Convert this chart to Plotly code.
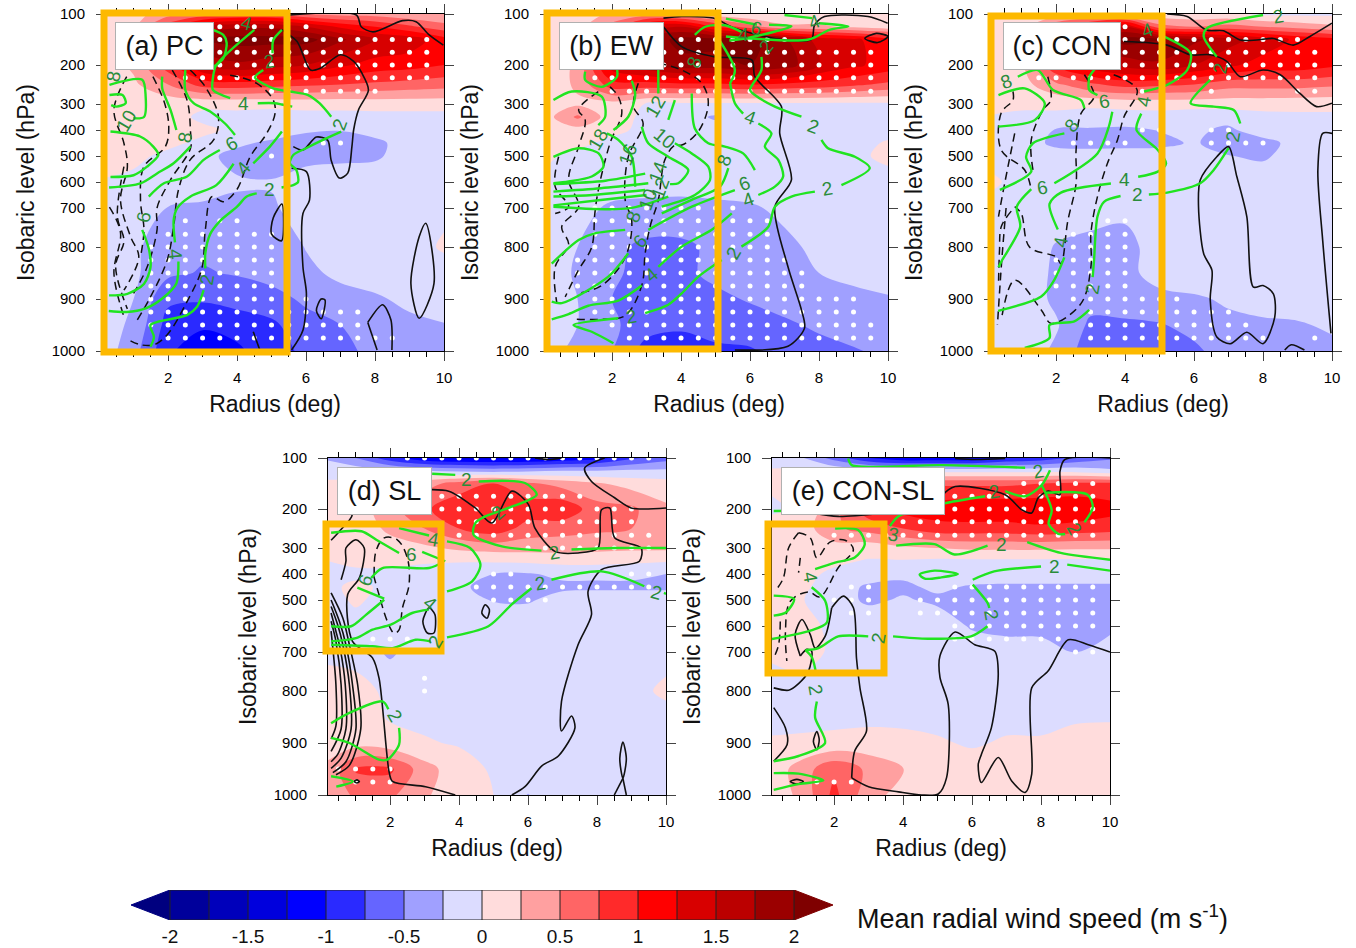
import numpy as np
import plotly.graph_objects as go

# ---------- axis scale of the figure (pressure ticks and their place on the NCL level axis)
TICK_P = [100, 200, 300, 400, 500, 600, 700, 800, 900, 1000]
TICK_POS = [337, 286, 247, 221, 195, 169, 143, 104, 52, 0]
X_TICKS = [2, 4, 6, 8, 10]
CB_TICKS = [-2, -1.5, -1, -0.5, 0, 0.5, 1, 1.5, 2]
COLORS = ['#00007f', '#00009b', '#0000bb', '#0000dd', '#0000ff', '#2a2aff', '#6565ff', '#a0a0ff', '#dcdcff',
          '#ffdcdc', '#ffa0a0', '#ff6565', '#ff2a2a', '#ff0000', '#d80000', '#bb0000', '#9b0000', '#7f0000']

# ---------- shaded field: mean radial wind speed (m/s)
RADII = [0.2, 1, 2, 3, 4, 5, 6, 7, 8, 9, 10]
LEVELS = [100, 125, 150, 200, 250, 300, 350, 400, 450, 500, 600, 700, 800, 850, 900, 950, 1000]
Z_PC = [
 [.1,.15,.4,.6,.7,.7,.5,.4,.4,.3,.25],
 [.1,.2,.9,1.5,1.7,1.7,1.5,1.2,1.0,.8,.6],
 [.1,.3,1.3,2.0,2.1,2.1,2.1,1.8,1.5,1.4,1.1],
 [.1,.3,.9,1.5,1.7,1.6,1.5,1.3,1.15,1.1,1.0],
 [.1,.2,.5,.85,.9,.85,.8,.75,.7,.65,.6],
 [.1,.1,.08,.05,.05,.05,.08,.08,.1,.1,.1],
 [.1,.1,.1,-.05,-.05,-.08,-.08,-.08,-.08,-.08,-.08],
 [.05,.1,.1,.05,-.05,-.1,-.22,-.24,-.12,-.08,-.08],
 [.05,.1,.05,-.05,-.2,-.3,-.35,-.38,-.33,-.1,-.06],
 [.1,.05,-.05,-.18,-.33,-.4,-.35,-.33,-.3,-.1,-.05],
 [-.02,-.05,-.05,-.1,-.22,-.23,-.1,-.05,-.05,-.05,-.05],
 [-.05,-.1,-.26,-.3,-.3,-.28,-.15,-.1,-.1,-.08,-.05],
 [-.1,-.2,-.4,-.45,-.45,-.4,-.24,-.15,-.1,-.1,.03],
 [-.1,-.2,-.45,-.52,-.48,-.4,-.3,-.2,-.15,-.12,-.1],
 [-.12,-.25,-.7,-.72,-.65,-.6,-.45,-.33,-.28,-.2,-.15],
 [-.15,-.3,-.85,-.95,-.9,-.8,-.6,-.5,-.4,-.3,-.26],
 [-.15,-.4,-.95,-1.2,-1.05,-.85,-.7,-.55,-.45,-.35,-.3]]
Z_EW = [
 [.05,.1,.3,.4,.3,.1,.05,.05,.05,.05,.05],
 [.05,.15,.6,1.3,1.5,1.0,.6,.3,.3,.2,.1],
 [.1,.2,1.0,1.8,2.1,2.1,2.1,1.8,1.4,1.3,1.1],
 [.1,.3,1.4,1.7,1.9,1.9,2.0,1.9,1.5,1.3,1.15],
 [.1,.3,.9,.9,.95,.95,1.0,.95,.9,.8,.7],
 [.15,.2,.15,-.02,-.05,-.05,-.05,-.05,-.05,-.05,-.05],
 [.2,.55,.1,-.05,-.15,-.28,-.1,-.1,-.1,-.1,-.1],
 [.1,.15,.05,-.05,-.1,-.15,-.1,-.1,-.1,-.1,-.1],
 [.05,.05,-.05,-.08,-.1,-.1,-.1,-.1,-.1,-.1,.03],
 [.02,-.05,-.1,-.1,-.1,-.1,-.1,-.1,-.1,-.05,.05],
 [-.05,-.1,-.1,-.12,-.15,-.15,-.12,-.1,-.1,-.1,-.08],
 [-.1,-.15,-.3,-.33,-.33,-.3,-.28,-.2,-.1,-.08,-.05],
 [-.15,-.25,-.45,-.55,-.55,-.45,-.4,-.3,-.2,-.15,-.12],
 [-.15,-.28,-.45,-.6,-.55,-.45,-.4,-.32,-.25,-.22,-.2],
 [-.15,-.25,-.5,-.6,-.6,-.55,-.48,-.38,-.32,-.28,-.26],
 [-.15,-.25,-.45,-.65,-.7,-.65,-.6,-.55,-.45,-.4,-.35],
 [-.2,-.3,-.5,-.85,-.9,-.8,-.78,-.65,-.6,-.52,-.45]]
Z_CON = [
 [-.02,.02,.15,.2,.2,.1,.05,.05,-.05,-.05,-.05],
 [.05,.1,.7,1.1,1.5,.6,.5,.6,.5,.4,.3],
 [.1,.2,1.2,1.9,2.1,2.0,1.8,1.6,1.4,1.2,1.1],
 [.1,.2,1.0,1.4,1.6,1.7,1.5,1.3,1.15,1.15,1.05],
 [.1,.15,.45,.7,.85,.8,.75,.6,.6,.6,.55],
 [.08,.05,.05,.05,.08,.1,.1,.1,.1,.08,.08],
 [-.02,-.05,-.05,-.1,-.1,-.1,-.15,-.15,-.08,-.05,-.05],
 [-.05,-.08,-.27,-.28,-.3,-.24,-.2,-.3,-.1,-.05,-.05],
 [-.05,-.1,-.32,-.33,-.32,-.32,-.22,-.38,-.35,-.15,-.05],
 [-.05,-.1,-.12,-.15,-.15,-.12,-.15,-.24,-.3,-.1,-.05],
 [.02,-.05,-.05,-.05,-.05,-.05,-.05,-.05,-.05,-.05,-.05],
 [-.05,-.05,-.1,-.15,-.2,-.1,-.08,-.05,-.05,-.05,-.05],
 [-.05,-.08,-.27,-.32,-.32,-.15,-.1,-.08,-.06,-.05,-.05],
 [-.05,-.08,-.3,-.35,-.3,-.18,-.12,-.1,-.08,-.06,-.05],
 [-.05,-.1,-.3,-.4,-.35,-.3,-.28,-.22,-.18,-.15,-.1],
 [-.05,-.1,-.22,-.55,-.55,-.52,-.42,-.3,-.28,-.27,-.22],
 [-.05,-.1,-.3,-.65,-.68,-.6,-.55,-.38,-.32,-.3,-.3]]
Z_SL = [
 [-.3,-.5,-.9,-1.2,-1.3,-1.3,-1.3,-1.2,-1.1,-.8,-.6],
 [-.05,-.1,-.2,-.25,-.3,-.35,-.3,-.25,-.25,-.2,-.2],
 [.02,.05,.1,.4,.6,.75,.55,.4,.28,.15,.1],
 [.05,.1,.4,.7,.95,1.0,.9,.95,.6,.55,.3],
 [.05,.1,.3,.5,.75,.9,.65,.6,.55,.5,.45],
 [.05,.1,.15,.2,.3,.35,.35,.35,.32,.3,.3],
 [0,.05,.05,.03,.02,.03,.05,.08,.08,.05,.02],
 [-.05,-.05,-.05,-.1,-.15,-.25,-.27,-.2,-.2,-.2,-.25],
 [-.05,.05,-.05,-.1,-.2,-.35,-.35,-.3,-.3,-.3,-.3],
 [-.05,.02,-.05,-.08,-.1,-.27,-.28,-.15,-.1,-.1,-.1],
 [-.05,-.05,-.05,-.05,-.05,-.05,-.05,-.02,-.05,-.05,-.05],
 [-.05,-.05,-.3,-.05,-.05,-.05,-.05,-.02,-.05,-.05,-.05],
 [.1,.05,-.03,-.05,-.05,-.05,-.05,-.05,-.05,-.05,.03],
 [.1,.1,-.02,-.05,-.05,-.05,-.05,-.05,-.05,-.05,-.05],
 [.15,.15,.08,.02,-.02,-.05,-.05,-.05,-.05,-.05,-.05],
 [.3,.78,.8,.35,.1,-.03,-.05,-.05,-.05,-.05,-.05],
 [.3,.55,.55,.28,.12,0,-.26,-.05,-.05,-.05,-.05]]
Z_CONSL = [
 [-.1,-.2,-.6,-1.0,-1.2,-1.2,-1.2,-1.0,-.9,-.7,-.55],
 [.02,.05,-.05,-.1,-.1,-.1,-.1,-.1,-.1,-.1,-.2],
 [.02,.05,.1,.4,.6,.7,.7,.7,.75,.8,.8],
 [-.02,.02,.4,.9,1.1,1.15,1.2,1.2,1.2,1.2,1.1],
 [.05,.1,.45,.6,.75,.9,.9,.9,.95,.9,.85],
 [.1,.2,.15,.1,.2,.25,.3,.3,.3,.28,.28],
 [.1,.15,.05,-.02,-.02,-.05,-.05,-.05,-.05,-.05,-.05],
 [.05,.08,-.05,-.1,-.2,-.1,-.1,-.1,-.1,-.1,-.1],
 [.05,.05,-.1,-.3,-.3,-.2,-.28,-.3,-.3,-.3,-.3],
 [.05,.02,-.12,-.3,-.22,-.3,-.32,-.35,-.35,-.35,-.35],
 [.05,.08,-.05,-.05,-.08,-.1,-.28,-.35,-.35,-.33,-.33],
 [.02,.05,-.02,-.05,-.05,-.05,-.1,-.1,-.12,-.26,-.1],
 [-.05,-.05,-.05,-.05,-.05,-.05,-.05,-.05,-.05,-.05,-.05],
 [-.05,-.05,-.05,-.05,-.05,-.05,-.05,-.05,-.05,-.03,-.02],
 [.02,.03,.05,.08,.06,.02,-.02,.02,.02,.08,.08],
 [.1,.35,.7,.45,.26,.1,.08,.08,.1,.1,.1],
 [.1,.3,.82,.35,.15,.08,.06,.05,.05,.05,.05]]

# ---------- significance stippling: level -> radius spans
STIP_PC = {125:[(3.5,5),(6,6)],150:[(3.5,9.5)],175:[(3.5,9.5)],200:[(3.5,9.5)],233:[(2.5,9.5)],267:[(5,8)],
 450:[(6.5,7)],500:[(5,5)],733:[(2.5,2.5),(3.5,4)],767:[(2,5)],800:[(1.5,5)],825:[(1.5,5)],850:[(1.5,5)],875:[(1.5,5)],
 900:[(1.5,5),(6,6)],925:[(1.5,7.5)],950:[(1.5,7.5)],975:[(2,8.5)]}
STIP_EW = {150:[(4,7)],175:[(3.5,9.5)],200:[(3.5,9.5)],233:[(1.5,9.5)],267:[(2,9.5)],700:[(1.5,5.5)],733:[(1.5,6.5)],
 767:[(1.5,6.5)],800:[(1.5,6.5)],825:[(1,7)],850:[(1,7.5)],875:[(1,7.5)],900:[(1.5,9)],925:[(1.5,9)],950:[(2,9.5)],975:[(2.5,9.5)]}
STIP_CON = {125:[(4,4)],150:[(4,9)],175:[(4,9.5)],200:[(4,9.5)],233:[(1.5,9.5)],267:[(4.5,4.5),(6.5,6.5),(9,9.5)],
 400:[(4.5,5),(6.5,7)],450:[(2.5,4),(6.5,8)],733:[(3.5,4)],767:[(2.5,4)],800:[(2.5,4)],825:[(2,4)],850:[(2,4)],875:[(2,4)],
 900:[(2.5,5.5)],925:[(3,7)],950:[(3,7.5)],975:[(3,8),(9.5,9.5)]}
STIP_SL = {100:[(2.5,9.5)],175:[(3.5,7.5)],200:[(3.5,7),(8,9)],233:[(4,9)],267:[(4,9.5)],300:[(6,9.5)],400:[(5,5.5),(9,9.5)],
 450:[(4.5,6.5),(7,9.5)],500:[(5,6.5)],650:[(1.5,2.5)],767:[(3,3)],800:[(3,3)],950:[(.5,2)],975:[(1,2)]}
STIP_CONSL = {150:[(7.5,9.5)],175:[(5.5,9.5)],200:[(5.5,9.5)],233:[(4,9.5)],267:[(2,9.5)],450:[(2.5,3),(5.5,9.5)],
 500:[(2,3),(4.5,9.5)],550:[(2.5,3),(4.5,9.5)],600:[(5.5,9.5)],650:[(5.5,8.5)],700:[(9,9.5)],975:[(1.5,2.5)]}

# ---------- inflow/outflow contours: (radius list, hPa list)
GREEN_PC = [
 ([4.5,3.4,3.3,3.3,3.8],[131,200,233,264,285]),([4.6,5.1,5.3,5.6],[298,298,302,310]),
 ([5.3,5.05,5.03],[131,151,177]),([4.76,4.52,5.05,5.53,6.06,6.39,6.73],[213,232,260,268,277,298,349]),
 ([7.02,6.49,6,5.63,5.53,5.72,5.77,5.63,5.29],[406,438,470,496,528,554,600,612,621]),
 ([4.57,4.28,4,3.51,3.22,3.08,3.08],[644,656,695,733,767,812,841]),
 ([3.03,2.84,2.55,1.49,1.59,1.49],[883,915,931,950,973,992]),
 ([5.3,4.95,4.47],[406,464,528]),([3.9,3.4,2.65,2.26,2.16,2.2],[530,612,656,701,733,788]),
 ([2.3,2.24,1.83,1.35,.8,.28],[828,870,899,918,925,923]),
 ([3.5,3.03,2.55,1.88,1.44],[477,515,579,605,656]),([1.25,1.44,1.49,1.3,.82,.29],[756,803,839,871,890,893]),
 ([2.65,2.16,1.68,1.2,.29],[463,528,567,605,621]),([1.83,1.83,2.07,2.24],[230,260,323,400]),
 ([.33,1.19,1.57,1.72,1.39,1,.33],[406,425,464,496,541,574,581]),([.3,1.25,1.35,1.3,.99],[251,238,281,350,355]),
 ([.3,.68,.77,.5,.35],[277,277,298,310,304]),([2.5,2.5,2.74,3.22,3.65,3.94],[213,264,298,329,375,419]),
 ([3.3,3.6,3.7,3.6,3.33],[131,141,157,187,204])]
BLACK_PC = [
 ([5.53,7.46,7.6,7.94,8.8,9.19,9.57,9.98],[102,102,125,135,113,115,141,161]),
 ([5.3,5.74,6.13,6.42,7,7.38,7.62,7.81,7.52,7.38,7.33,7.21,6.97,6.73,6.63,6.3,5.91,5.63],[131,154,213,208,180,193,221,264,323,400,464,566,585,517,440,427,477,464]),
 ([5.58,6.01,6.1,5.91,5.91,6.01,5.91,5.58],[547,560,670,714,838,889,960,998]),
 ([5.3,5.05,5,5.29,5.3],[685,725,767,784,685]),
 ([9.47,9.28,9.04,9.28,9.71,9.47],[739,774,870,937,870,739]),
 ([6.44,6.3,6.44,6.55,6.44],[900,922,938,902,900]),
 ([7.79,8.22,8.46,8.49],[945,911,940,998]),([7.79,8.06],[945,998]),([4.47,4.66],[963,998])]
DASH_PC = [
 ([3.8,4.57,5.05,5.1,4.86,4.38,3.99,3.6,3.27,3.08,2.98,2.55,1.97,1.59,1.2,.9],[226,247,290,337,413,503,630,676,656,756,841,905,969,988,988,980]),
 ([2.64,3.08,3.46,3.32,2.64,2.3,2.16,1.97,1.49,1.1],[213,256,349,438,515,631,748,826,896,941]),
 ([2.12,2.55,2.65,2.65,2.07,1.68,1.68,1.39,1],[213,290,406,470,592,700,756,839,889]),
 ([1.56,1.9,2.02,1.92,1.3,1.2,1.3,1.2],[230,298,390,464,541,669,756,819]),
 ([.8,.43,.72,.82,.62,.91,1.15,.72],[230,323,451,541,669,773,819,883]),
 ([.72,.53,.72,.48,.82],[541,722,785,836,919]),([.3,.62,.43,.72],[697,763,850,934])]
GREEN_EW = [
 ([6.33,6.33,6,6.14,6.72,7.49],[184,213,264,277,310,349]),
 ([8.07,8.26,9.04,9.47,8.65],[438,470,503,547,612]),([7.88,7.2,6.72,6.53,5.75],[637,656,695,748,799]),
 ([5.18,4.5,4.02,3.63,2.96],[825,857,889,911,927]),([2.18,.88,1.41,2.04],[937,950,963,985]),
 ([5.42,5.56,5.8],[247,298,337]),([6.24,6.62,6.43,6.82,6.96,6.72,6.24],[375,413,464,515,579,618,650]),
 ([5.47,4.89,4.02,3.34],[714,756,799,838]),([2.86,2.18,1.31,.74,.25],[874,903,913,929,939]),
 ([4.31,4.4,4.79,5.27,5.8,6.14],[273,394,451,464,490,554]),([5.56,4.31,3.05],[631,695,756]),([2.47,1.89,.54,.25],[812,857,908,905]),
 ([2.86,3.05,3.63,4.21,3.92,3.68],[387,451,503,554,605,608]),
 ([3.82,4.31,4.79,4.84,4.4,3.44],[451,490,541,592,650,695]),
 ([5.37,5.13,4.31,3.44],[547,618,669,714]),([2.38,1.5,1.03,.25],[756,765,782,832]),
 ([.3,1.81,2.96],[608,595,568]),([.3,1.67,3.05],[637,624,605]),([.3,1.43,2.96],[656,650,631]),([.3,1.67,3],[690,669,650]),
 ([.3,2.47,3.63],[695,701,656]),
 ([.3,1.03,1.61,1.75,1.41,.74,.3],[503,470,490,541,579,598,605]),
 ([.3,.83,1.7,1.8,1.6],[290,268,281,349,381]),
 ([1.22,1.22,1.7,2.14,2.14],[217,238,256,230,208]),
 ([2.57,2.67,2.47,2.04],[240,277,349,400]),([1.85,2.18,2.57,2.67],[413,438,503,618]),
 ([3.82,3.63],[290,361]),([3.34,3.34],[204,273]),
 ([4.4,4.7,5.27,5.75],[141,125,122,135]),([5.08,5.56,5.42],[148,213,247]),
 ([7.0,7.8],[102,108]),([8,8.85,8.3,7.7,5.3],[118,124,131,150,144]),([5.3,6.2],[109,121]),([6.55,7.2,6,5.4],[121,124,146,152])]
BLACK_EW = [
 ([3.49,4.02,4.93,5.56,6.91,7.78,7.87,8.16,9.42,9.99],[108,105,108,128,150,150,122,105,105,118]),
 ([3.49,4.02,4.98,6.05,6.14,6.91,6.86,7.2,6.72,7.1,7.49,7.58,7.1,5.56],[125,164,184,190,230,310,413,592,695,838,921,956,991,998]),
 ([9.33,9.66,10,9.7,9.33],[148,138,144,156,148])]
DASH_EW = [
 ([3.34,4.02,4.6,4.79,4.5,4.02,3.82,3.53,3.34,3.1,2.96,2.86,2.38,1.7,.97],[196,213,247,298,406,458,458,515,669,748,812,874,932,939,939]),
 ([2.76,2.62,2.9,2.47,2.38,2.57,2.38,1.7,1.02],[247,310,375,503,669,733,820,874,889]),
 ([1.94,2.18,2.28,1.94,1.6,1.5,1.41,1.02,.64],[256,281,337,451,631,714,800,845,896]),
 ([1.6,1.03,1.22,1.03,.74,1.03,.54,.74,.35,.4],[268,323,361,464,590,695,748,793,838,908]),
 ([.45,.35,.74,.35],[503,618,695,714])]
GREEN_CON = [
 ([8,6.37,6.28,6.66],[102,128,144,184]),([6.47,5.9,6.57,7.15,7.34],[238,298,310,323,375]),
 ([7,6.57,6.18,5.22,4.69],[470,554,605,641,648]),([3.87,3.39,3.2,3.1,3.06],[654,676,722,826,858]),
 ([2.96,2.53,1.81,1.81,1.09],[921,943,950,975,994]),
 ([5.12,5.9,5.8,5.22,4.55],[144,177,213,251,268]),([4.47,4.33,4.95,5.19,4.95,4.38],[337,400,477,528,560,580]),
 ([3.59,2.14,1.81,2.05],[606,641,684,755]),([2.24,1.95,1.57,.32],[820,863,895,923]),
 ([3.63,3.53,3.2,1.95],[330,387,490,605]),([1.28,.86,.96,.43,.33],[627,695,748,826,839]),([2.96,2.96,3.2],[230,264,277]),
 ([2.24,1.33,1.13,1.28,.37],[413,451,503,560,630]),([2.82,2.72,1.91,1.47,.89],[316,290,264,213,230]),
 ([.33,1.09,1.67,1.38,.33],[277,260,298,362,387]),([3.5,3.1,2.96],[180,213,230])]
BLACK_CON = [
 ([5.22,5.8,6.37,6.85,7.34,7.82,8.3,8.88,9.36,10],[100,105,132,133,151,151,148,161,144,118]),
 ([3.97,5.22,5.9,6.47,6.95,7.34,8,8.5,9.07,9.55,10],[154,161,180,180,193,230,213,225,273,310,298]),
 ([7,6.66,6.18,6.13,6.28,6.52,6.47,6.66,7.05,7.53,8,8.34,8.3,8,7.72,7.53,7.24,7],[464,503,592,695,813,845,902,973,986,964,986,935,890,874,877,722,579,464]),
 ([10,9.73,9.59,9.73,9.97],[413,413,554,783,966]),([8.63,8.82,9.2],[998,988,998])]
DASH_CON = [
 ([3.67,4.35,3.97,3.78,3.49,3.2,3.01,3.01,2.72,1.86,1.57,.8,.41],[225,264,349,438,528,656,765,838,909,947,921,864,941]),
 ([2.82,3.1,2.72,2.58,2.58,2.34,2.14,2,1.23,.99,.8],[225,281,337,477,606,733,832,819,800,714,695]),
 ([1.76,1.85,1.62,1.28,1.33],[230,290,323,438,554]),
 ([.75,.75,.41,.41,1.09,1.28],[268,290,334,477,554,631]),
 ([.8,.51,.33],[413,605,722]),([.7,.41,.36,.33],[708,748,806,875]),([.55,.42,.3],[700,830,950])]
GREEN_SL = [
 ([3.22,3.89],[131,133]),([4.57,5.91,6.25,5.43,4.76,4.47,4.42,5.24,6.39],[146,149,172,198,219,236,266,296,310]),
 ([7.26,8.51,10],[306,300,300]),
 ([2.26,3.13],[249,268]),([3.65,4.32,4.62,4.38,3.65],[283,300,364,428,467]),
 ([3.12,2.64,2.02,1.49,1.01,.29],[537,550,595,614,647,659]),
 ([3.6,2.93],[351,315]),([2.26,1.6,1.17,.29],[319,279,257,261]),
 ([3.55,3.13,1.78,1.45],[354,377,377,415]),([1.05,1.83],[452,495]),([1.83,1.3,.87,.29],[499,557,601,601]),
 ([3.65,4.85,5.52,6.1],[644,601,518,455]),([6.68,8.13,9.37],[422,390,447]),([9.94,10],[473,476]),
 ([.29,1.49,2.07,2.74,3.17],[672,678,685,653,659]),
 ([.29,.82,1.78,1.95],[862,842,820,835]),([2.26,2.26,1.92,1.68,.82,.29],[871,903,932,932,900,890]),
 ([.29,.92,.44],[964,974,984])]
BLACK_SL = [
 ([.58,.72,.72,1.01,1.25,1.11,.77,.91,1.49,1.68,1.97,2.07,3.03,3.89],[422,351,300,279,300,415,479,659,715,767,955,974,984,1000]),
 ([.29,.63,.82,1.06,1.15,.82,.43],[473,569,672,784,873,943,961]),
 ([.29,.53,.72,.91,1.01,.72,.34],[500,582,672,784,873,936,957]),
 ([.29,.48,.63,.82,.87,.58,.29],[525,595,672,784,873,929,949]),
 ([.29,.43,.55,.7,.72,.48,.29],[550,620,685,784,873,922,936]),
 ([.29,.43,.58,.58,.29],[582,659,784,873,916]),([.29,.43,.43,.29],[620,784,867,892]),
 ([6.2,6.6,6.97],[100,103,100]),
 ([8.22,7.64,7.84,8.51,8.99,10],[100,120,146,178,198,198]),
 ([3.17,3.7,4.47,4.95,5.53,6.01,6.2,6.78,7.45,8.03,8.13,8.37,8.51,9.28,9.23,8.13,7.74,7.84,7.45,6.97,6.97,7.26,7.36,6.88,6.4,5.91,5.53],
  [162,165,198,236,165,191,249,313,319,300,202,198,274,300,351,383,467,556,672,820,877,848,871,925,944,984,1000]),
 ([4.76,4.66,4.81,4.88,4.76],[518,550,570,537,518]),
 ([3.13,2.95,3.08,3.27,3.3,3.13],[530,582,627,627,556,530]),
 ([8.75,8.66,8.75,8.85,8.75],[898,930,968,930,898]),([8.75,8.5],[968,1000]),([8.75,8.85],[968,1000]),
 ([.96,1.04,1.11,1.04,.96],[974,971,974,977,974]),([.6,.9,.5,.29],[195,215,260,280])]
DASH_SL = [([1.54,1.59,1.83,2.21,2.5,2.55,2.36,2.26,2.12,1.92,1.68,1.49],[403,313,274,279,338,441,530,615,628,582,480,390])]
GREEN_CONSL = [
 ([2.41,2.51,5.11,7.54],[101,114,114,119]),([8.26,8.02,7.54,6.96],[124,153,175,165]),([6.38,5.12,3.86,3.62],[175,190,219,244]),
 ([8.14,9.35,9.5,9.26],[168,172,197,234]),([8.02,8.31,8.22,8.5,8.7],[153,204,238,264,264]),
 ([3.8,4.91,5.49,6.45],[294,290,325,294]),([7.6,8.57,10],[285,319,345]),
 ([6.02,6.64,8],[422,390,371]),([8.76,10],[364,387]),
 ([6.02,6.45,6.5],[441,511,531]),([6.45,5.97,4.72,3.71],[601,640,649,640]),([2.99,2.12,1.55,1.17],[640,640,685,693]),
 ([1.17,1.36,1.48],[693,714,756]),([1.5,1.45,1.74,.97,.25],[820,851,900,925,935]),
 ([.25,.97,1.69,.97,.25],[990,979,972,959,958]),
 ([4.48,4.91,5.59,5.11,4.63,4.48],[402,387,400,413,418,402]),
 ([2.03,2.7,2.89,2.6,2.03,1.45],[250,254,290,337,356,381]),([1.35,1.74,1.79,1.31,.2],[451,503,587,618,650]),
 ([.25,.84,.6,.25],[483,496,548,560]),([.25,1.4,2.2],[205,205,210])]
BLACK_CONSL = [
 ([10,8.69,8.55,8.55,8.21,7.92,7.73,7.44,6.96,5.51,5.17,5.12,3.86,2.12,1.4],[100,103,126,172,165,178,210,202,172,156,172,198,207,219,210]),
 ([5.51,6.1,6.96],[101,103,101]),
 ([1.93,2.27,2.56,2.65,2.75,2.94,2.6,2.51],[530,485,530,716,792,877,915,967]),
 ([2.51,3,3.87,4.54,5.02,5.26,5.31,5.07,5.07,5.51,6.08,6.66,6.76,6.56,6.27,6.18,6.27,6.76,7.15,7.54,7.73,7.73,8.21,8.79,9.37,10],
  [967,984,994,1000,998,967,826,765,710,623,672,697,756,871,922,941,976,928,973,995,960,792,748,653,672,700]),
 ([1.02,.87,1.07,1.31,1.45,1.74,1.93],[710,633,575,633,685,640,530]),
 ([1.02,1.21,1.35,1.26,.97,.68,.25],[710,690,697,749,781,798,792]),
 ([.25,.59,.64,.25],[832,871,903,935]),
 ([1.5,1.4,1.5,1.57,1.5],[878,897,913,894,878]),
 ([.73,.92,1.11,.92,.73],[974,970,974,979,974])]
DASH_CONSL = [
 ([.97,.68,.53,.29],[261,300,415,466]),
 ([.97,1.31,1.5,1.88,2.32,2.56,2.12,1.59,1.26,.73,.59,.63],[261,274,338,285,280,306,376,488,469,505,621,723]),
 ([1.02,.97],[338,395]),([.44,.39,.25],[583,673,715])]

# contour labels: radius, hPa, text, angle
LAB_PC = [(4.28,118,'4',15),(4.18,298,'4',0),(4.93,193,'2',-10),(6.97,378,'2',-70),(.43,228,'8',-80),(.8,365,'10',-60),
 (2.48,427,'8',-80),(3.85,451,'6',-30),(4.18,547,'4',-50),(4.93,630,'2',0),(1.3,722,'6',-80),(2.2,815,'4',85),(3.12,862,'2',-80)]
LAB_EW = [(7.83,385,'2',20),(6,350,'4',20),(5.85,605,'6',-20),(5.95,669,'4',-20),(8.26,625,'2',-10),(5.51,812,'2',-60),
 (3.26,310,'12',-60),(3.53,432,'10',40),(1.6,438,'18',-60),(2.47,496,'16',-70),(3.34,560,'14',-70),(3.39,625,'12',-70),
 (3.05,669,'10',-70),(2.62,722,'8',-70),(2.81,786,'6',-50),(3.15,853,'4',-40),(2.57,934,'2',-10),(5.27,515,'8',-70),
 (4.4,194,'8',-70),(6.19,128,'6',15),(5.8,141,'4',0),(6.48,164,'2',-50),(7.88,115,'4',-20)]
LAB_CON = [(4.64,132,'4',-20),(8.44,105,'2',-10),(6.76,209,'2',-80),(4.55,294,'4',-80),(3.39,294,'6',-10),(.56,243,'8',-20),
 (2.45,381,'8',-50),(7.14,426,'2',-80),(1.62,621,'6',-10),(3.99,592,'4',0),(4.36,648,'2',0),(2.14,786,'4',-80),(3.06,880,'2',-80)]
LAB_SL = [(4.23,142,'2',0),(5.14,210,'2',-40),(3.27,279,'4',10),(2.63,326,'6',0),(1.3,422,'6',-70),(3.17,512,'4',40),
 (6.35,435,'2',-10),(6.78,319,'2',-10),(9.71,473,'2',15),(3.32,659,'2',-60),(2.12,848,'2',60)]
LAB_CONSL = [(7.92,126,'2',-10),(6.66,165,'2',-10),(8.98,252,'2',60),(3.72,266,'3',10),(6.86,290,'2',0),(8.4,371,'2',0),
 (6.57,558,'2',80),(3.28,647,'2',-80),(1.3,415,'4',80),(1.45,797,'2',80)]

TITLES = ['(a) PC', '(b) EW', '(c) CON', '(d) SL', '(e) CON-SL']
PANELS = [(Z_PC, STIP_PC, GREEN_PC, BLACK_PC, DASH_PC, LAB_PC),
          (Z_EW, STIP_EW, GREEN_EW, BLACK_EW, DASH_EW, LAB_EW),
          (Z_CON, STIP_CON, GREEN_CON, BLACK_CON, DASH_CON, LAB_CON),
          (Z_SL, STIP_SL, GREEN_SL, BLACK_SL, DASH_SL, LAB_SL),
          (Z_CONSL, STIP_CONSL, GREEN_CONSL, BLACK_CONSL, DASH_CONSL, LAB_CONSL)]

# ---------- layout in pixels
W, H = 1356, 948
AX_X = [106, 550, 994, 328, 772]
AX_TOP = [14, 14, 14, 458, 458]
AX_W, AX_H = 338, 337
BOXES = [(104, 13, 287, 352, 7), (547, 13, 718, 349, 7), (991, 16, 1162, 351, 7), (326, 524, 441, 651, 7), (768, 524, 884, 673, 7)]
TITLE_BOX = [(115, 22, 97), (559, 22, 103), (1003, 22, 116), (337, 467, 93), (781, 467, 162)]
FONT = 'Liberation Sans'
GREEN, LABEL_GREEN = '#20e420', '#2a8c3a'


def to_pos(p):
    return np.interp(p, TICK_P, TICK_POS)


def px(x):
    return x / W


def py(y):
    return 1 - y / H


edges = np.linspace(-2.25, 2.25, 19)
cscale = []
for i, c in enumerate(COLORS):
    cscale += [[i / 18, c], [(i + 1) / 18, c]]

fig = go.Figure()
layout = {}
annots, shapes = [], []
for k, (Z, STIP, GR, BL, DS, LAB) in enumerate(PANELS):
    n = '' if k == 0 else str(k + 1)
    xa, ya = 'x' + n, 'y' + n
    fig.add_trace(go.Contour(x=RADII, y=to_pos(LEVELS[::-1]), z=np.array(Z)[::-1], xaxis=xa, yaxis=ya, showscale=False,
                             colorscale=cscale, zmin=-2.25, zmax=2.25, autocontour=False, hoverinfo='skip',
                             contours=dict(coloring='fill', start=-2, end=2, size=0.25, showlines=False),
                             line=dict(width=0, smoothing=1.0)))
    sx, sy = [], []
    for lev, spans in STIP.items():
        for a, b in spans:
            rr = np.arange(a, b + 0.01, 0.5)
            sx += list(rr)
            sy += [lev] * len(rr)
    fig.add_trace(go.Scatter(x=sx, y=to_pos(sy), mode='markers', xaxis=xa, yaxis=ya, hoverinfo='skip',
                             marker=dict(color='white', size=5, line=dict(width=0))))
    for r, p in DS:
        fig.add_trace(go.Scatter(x=r, y=to_pos(p), mode='lines', xaxis=xa, yaxis=ya, hoverinfo='skip',
                                 line=dict(color='#111111', width=1.5, dash='8px,5px', shape='spline', smoothing=1)))
    for r, p in BL:
        fig.add_trace(go.Scatter(x=r, y=to_pos(p), mode='lines', xaxis=xa, yaxis=ya, hoverinfo='skip',
                                 line=dict(color='#111111', width=1.6, shape='spline', smoothing=0.8)))
    for r, p in GR:
        fig.add_trace(go.Scatter(x=r, y=to_pos(p), mode='lines', xaxis=xa, yaxis=ya, hoverinfo='skip',
                                 line=dict(color=GREEN, width=2.4, shape='spline', smoothing=0.8)))
    for r, p, t, ang in LAB:
        annots.append(dict(x=r, y=float(to_pos(p)), xref=xa, yref=ya, text=t, showarrow=False, textangle=ang,
                           font=dict(family=FONT, size=19, color=LABEL_GREEN)))
    x0, y0 = AX_X[k], AX_TOP[k]
    layout['xaxis' + n] = dict(domain=[px(x0), px(x0 + AX_W)], range=[0.2, 10], anchor=ya, tickvals=X_TICKS, ticktext=[str(v) for v in X_TICKS],
                               ticks='outside', ticklen=9, tickwidth=1, showline=True, mirror='ticks', linecolor='black', linewidth=1,
                               showgrid=False, zeroline=False, tickfont=dict(family=FONT, size=15, color='black'), automargin=False,
                               ticklabelstandoff=4,
                               minor=dict(dtick=0.5, tick0=0, ticks='outside', ticklen=5, tickwidth=1, tickcolor='black', showgrid=False),
                               title=dict(text='Radius (deg)', font=dict(family=FONT, size=23, color='#111'), standoff=10))
    layout['yaxis' + n] = dict(domain=[py(y0 + AX_H), py(y0)], range=[0, 337], anchor=xa, tickvals=TICK_POS, ticktext=[str(v) for v in TICK_P],
                               ticks='outside', ticklen=9, tickwidth=1, showline=True, mirror='ticks', linecolor='black', linewidth=1,
                               showgrid=False, zeroline=False, tickfont=dict(family=FONT, size=15, color='black'), automargin=False,
                               ticklabelstandoff=8,
                               title=dict(text='Isobaric level (hPa)', font=dict(family=FONT, size=23, color='#111'), standoff=10))
    bx0, by0, bx1, by1, th = BOXES[k]
    shapes.append(dict(type='rect', xref='paper', yref='paper', x0=px(bx0), x1=px(bx1), y0=py(by1), y1=py(by0),
                       line=dict(color='#fdb900', width=th), fillcolor='rgba(0,0,0,0)', layer='above'))
    tx, ty, tw = TITLE_BOX[k]
    annots.append(dict(x=px(tx), y=py(ty), xref='paper', yref='paper', xanchor='left', yanchor='top', text=TITLES[k], showarrow=False,
                       width=tw, height=46, bgcolor='white', bordercolor='#b0b0b0', borderwidth=1, borderpad=0, align='center',
                       valign='middle', font=dict(family=FONT, size=27, color='#111')))

# ---------- colour bar as its own axes
cb_mid = (edges[1:-2] + edges[2:-1]) / 2
fig.add_trace(go.Heatmap(x=(np.arange(-2, 1.99, 0.25) + 0.125), y=[0, 1], z=[list(cb_mid), list(cb_mid)], xaxis='x6', yaxis='y6', showscale=False,
                         colorscale=cscale, zmin=-2.25, zmax=2.25, hoverinfo='skip'))
fig.add_trace(go.Scatter(x=[-2, -2.25, -2], y=[0, .5, 1], fill='toself', fillcolor=COLORS[0], mode='lines', xaxis='x6', yaxis='y6',
                         line=dict(color=COLORS[0], width=1), hoverinfo='skip'))
fig.add_trace(go.Scatter(x=[2, 2.25, 2], y=[0, .5, 1], fill='toself', fillcolor=COLORS[-1], mode='lines', xaxis='x6', yaxis='y6',
                         line=dict(color=COLORS[-1], width=1), hoverinfo='skip'))
vx, vy = [], []
for v in np.arange(-2, 2.01, 0.25):
    vx += [v, v, None]
    vy += [0, 1, None]
vx += [-2, 2, None, -2, 2]
vy += [0, 0, None, 1, 1]
fig.add_trace(go.Scatter(x=vx, y=vy, mode='lines', xaxis='x6', yaxis='y6', line=dict(color='#222', width=1), hoverinfo='skip'))
layout['xaxis6'] = dict(domain=[px(131), px(833)], range=[-2.25, 2.25], anchor='y6', tickvals=CB_TICKS, ticktext=[f'{v:g}' for v in CB_TICKS],
                        ticks='', ticklabelstandoff=3, showgrid=False, zeroline=False, showline=False, tickfont=dict(family=FONT, size=19, color='#111'))
layout['yaxis6'] = dict(domain=[py(920), py(890)], range=[0, 1], anchor='x6', showticklabels=False, ticks='', showgrid=False, zeroline=False)
annots.append(dict(x=px(855), y=py(917), xref='paper', yref='paper', xanchor='left', yanchor='middle', showarrow=False,
                   text='Mean radial wind speed (m s<sup>-1</sup>)', font=dict(family=FONT, size=27, color='#111')))

fig.update_layout(width=W, height=H, margin=dict(l=0, r=0, t=0, b=0), paper_bgcolor='white', plot_bgcolor='white',
                  showlegend=False, annotations=annots, shapes=shapes, **layout)
fig.write_html('out.html', post_script="document.body.style.margin='0';", config={'displayModeBar': False})
